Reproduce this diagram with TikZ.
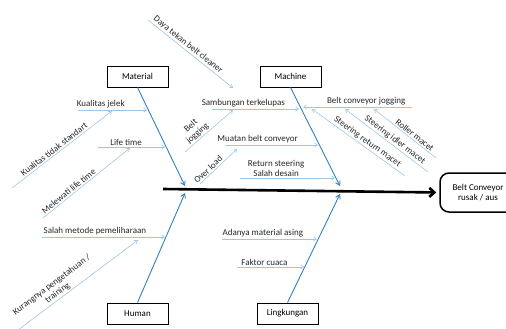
\documentclass[tikz,border=0pt]{standalone}
\usepackage{fontspec}
\setmainfont{Carlito}
\usetikzlibrary{arrows.meta}

\definecolor{bonecol}{RGB}{52,128,186}
\definecolor{causecol}{RGB}{160,198,230}

\begin{document}
\begin{tikzpicture}[x=1pt,y=-1pt,
  font=\fontsize{9}{10}\selectfont,
  box/.style={draw, line width=0.9pt, minimum width=61pt, minimum height=21pt, inner sep=1pt},
  effect/.style={draw, line width=1.5pt, rounded corners=9pt, minimum width=76pt, minimum height=39pt, align=center},
  bone/.style={-{Straight Barb[length=4pt,width=5pt]}, bonecol, line width=0.9pt},
  cause/.style={-{Straight Barb[length=3pt,width=4pt]}, causecol, line width=0.6pt},
  rcause/.style={cause, {Straight Barb[length=3pt,width=4pt]}-},
  lbl/.style={inner sep=1.5pt, text=black!85, align=center}]

\useasboundingbox (0,0) rectangle (506,329);

% Category boxes and effect
\node[box] (material) at (137.5,76.5) {Material};
\node[box] (machine) at (290.5,76.5) {Machine};
\node[box] (human) at (137.5,313.5) {Human};
\node[box] (lingkungan) at (287.5,313.5) {Lingkungan};
\node[effect] (effect) at (478,192.5) {Belt Conveyor\\rusak / aus};

% Spine
\coordinate (tail) at (163,189);
\draw[line width=2.6pt, -{Straight Barb[length=5pt,width=9pt]}, shorten >=3pt] (tail) -- (effect.west);

% Main bones
\coordinate (matEnd) at (185,186);
\coordinate (macEnd) at (340,186);
\coordinate (humEnd) at (185,193);
\coordinate (linEnd) at (340,194);
\draw[bone] (material.south) -- (matEnd);
\draw[bone] (machine.south) -- (macEnd);
\draw[bone] (human.north) -- (humEnd);
\draw[bone] (lingkungan.north) -- (linEnd);

% Material causes
\coordinate (kj1) at (78,110);   \coordinate (kj2) at (147,110);
\coordinate (kts1) at (12,188);  \coordinate (kts2) at (112,111);
\coordinate (lt1) at (98,147);   \coordinate (lt2) at (165,147);
\coordinate (mlt1) at (43,218);  \coordinate (mlt2) at (130,148);
\draw[cause] (kj1) -- (kj2) node[lbl, pos=0.33, above] (kjL) {Kualitas jelek};
\draw[cause] (kts1) -- (kts2) node[lbl, pos=0.45, sloped, above] (ktsL) {Kualitas tidak standart};
\draw[cause] (lt1) -- (lt2) node[lbl, pos=0.42, above] (ltL) {Life time};
\draw[cause] (mlt1) -- (mlt2) node[lbl, pos=0.33, sloped, above] (mltL) {Melewati life time};

% Human causes
\coordinate (smp1) at (42,237);  \coordinate (smp2) at (165,237);
\coordinate (kp1) at (18,330);   \coordinate (kp2) at (138,240);
\draw[cause] (smp1) -- (smp2) node[lbl, pos=0.43, above] (smpL) {Salah metode pemeliharaan};
\draw[cause] (kp1) -- (kp2) node[lbl, pos=0.36, sloped, above] (kpL) {Kurangnya pengetahuan /\\training};

% Machine causes
\coordinate (dtb1) at (148,20);  \coordinate (dtb2) at (233,88);
\coordinate (st1) at (212,109);  \coordinate (st2) at (299,109);
\coordinate (bj1) at (185,152);  \coordinate (bj2) at (233,110);
\coordinate (mbc1) at (225,145); \coordinate (mbc2) at (318,145);
\coordinate (ol1) at (200,184);  \coordinate (ol2) at (237,149);
\coordinate (rs1) at (240,178);  \coordinate (rs2) at (335,178);
\draw[cause] (dtb1) -- (dtb2) node[lbl, pos=0.43, sloped, above] (dtbL) {Daya tekan belt cleaner};
\draw[cause] (st1) -- (st2) node[lbl, pos=0.36, above] (stL) {Sambungan terkelupas};
\draw[cause] (bj1) -- (bj2) node[lbl, pos=0.34, sloped, above] (bjL) {Belt\\jogging};
\draw[cause] (mbc1) -- (mbc2) node[lbl, pos=0.35, above] (mbcL) {Muatan belt conveyor};
\draw[cause] (ol1) -- (ol2) node[lbl, pos=0.31, sloped, above] (olL) {Over load};
\draw[cause] (rs1) -- (rs2) node[lbl, pos=0.38, above] (rsL) {Return steering\\Salah desain};

% Belt conveyor jogging and its sub-causes
\coordinate (bcj1) at (412,107); \coordinate (bcj2) at (303,107);
\coordinate (rm1) at (374,109);  \coordinate (rm2) at (436,158);
\coordinate (sim1) at (345,109); \coordinate (sim2) at (428,172);
\coordinate (srm1) at (312,109); \coordinate (srm2) at (405,176);
\draw[cause] (bcj1) -- (bcj2) node[lbl, pos=0.42, above] (bcjL) {Belt conveyor jogging};
\draw[rcause] (rm1) -- (rm2) node[lbl, pos=0.61, sloped, above] (rmL) {Roller macet};
\draw[rcause] (sim1) -- (sim2) node[lbl, pos=0.56, sloped, above] (simL) {Steering idler macet};
\draw[rcause] (srm1) -- (srm2) node[lbl, pos=0.56, sloped, above] (srmL) {Steering return macet};

% Lingkungan causes
\coordinate (ama1) at (222,239); \coordinate (ama2) at (317,239);
\coordinate (fc1) at (237,267);  \coordinate (fc2) at (304,267);
\draw[cause] (ama1) -- (ama2) node[lbl, pos=0.43, above] (amaL) {Adanya material asing};
\draw[cause] (fc1) -- (fc2) node[lbl, pos=0.41, above] (fcL) {Faktor cuaca};

\end{tikzpicture}
\end{document}
